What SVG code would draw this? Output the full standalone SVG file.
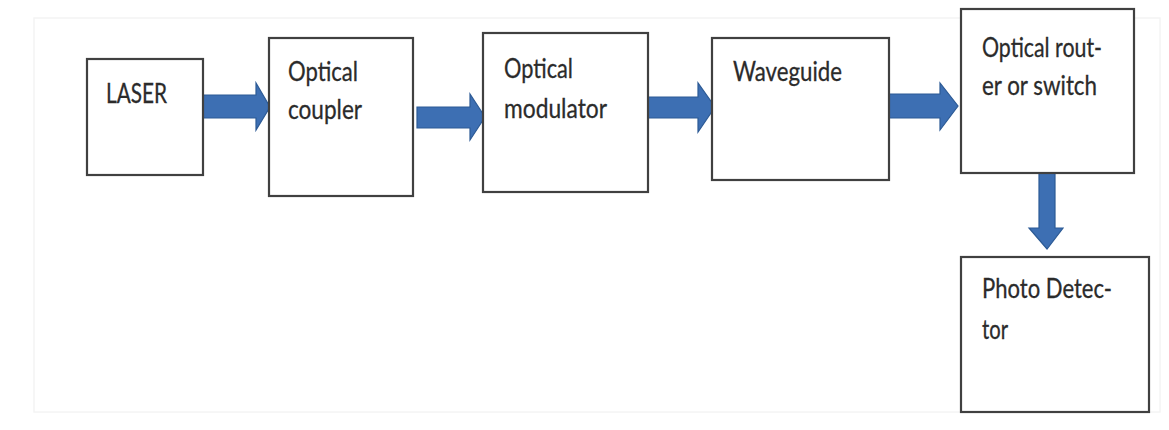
<svg xmlns="http://www.w3.org/2000/svg" width="1169" height="430" viewBox="0 0 1169 430">
  <style>
    .box { fill: #ffffff; stroke: #404040; stroke-width: 2.2; }
    .lbl { font-family: Lato, "Open Sans", "Liberation Sans", sans-serif; font-size: 27px; fill: #2b2b2b; stroke: #2b2b2b; stroke-width: 0.3; }
    .arr { fill: #3d6fb3; stroke: #2c5a95; stroke-width: 1.2; stroke-linejoin: miter; }
    .frame { fill: none; stroke: #f4f4f4; stroke-width: 1.5; }
  </style>
  <rect x="0" y="0" width="1169" height="430" fill="#ffffff"/>
  <rect class="frame" x="34" y="18" width="1126" height="394"/>

  <g id="connectors">
    <polygon class="arr" points="203,95 256,95 256,83 270,107 256,130 256,118 203,118"/>
    <polygon class="arr" points="417,107 470,107 470,94 485,117 470,140 470,128 417,128"/>
    <polygon class="arr" points="647,97 698,97 698,83 715,107 698,132 698,118 647,118"/>
    <polygon class="arr" points="889,94 940,94 940,83 958,106 940,130 940,118 889,118"/>
    <polygon class="arr" points="1039,173 1055,173 1055,228 1063,228 1047,249 1029,228 1039,228"/>
  </g>

  <g id="laser">
    <rect class="box" x="87" y="59" width="116" height="116"/>
    <text class="lbl" x="106" y="103" textLength="61" lengthAdjust="spacingAndGlyphs">LASER</text>
  </g>

  <g id="optical-coupler">
    <rect class="box" x="269" y="38" width="144" height="158"/>
    <text class="lbl" x="288" y="81" textLength="70" lengthAdjust="spacingAndGlyphs">Optical</text>
    <text class="lbl" x="288" y="119" textLength="74" lengthAdjust="spacingAndGlyphs">coupler</text>
  </g>

  <g id="optical-modulator">
    <rect class="box" x="483" y="33" width="165" height="159"/>
    <text class="lbl" x="504" y="78" textLength="69" lengthAdjust="spacingAndGlyphs">Optical</text>
    <text class="lbl" x="504" y="118" textLength="103" lengthAdjust="spacingAndGlyphs">modulator</text>
  </g>

  <g id="waveguide">
    <rect class="box" x="712" y="38" width="177" height="142"/>
    <text class="lbl" x="733" y="81" textLength="109" lengthAdjust="spacingAndGlyphs">Waveguide</text>
  </g>

  <g id="optical-router">
    <rect class="box" x="961" y="9" width="173" height="164"/>
    <text class="lbl" x="982" y="57" textLength="120" lengthAdjust="spacingAndGlyphs">Optical rout-</text>
    <text class="lbl" x="982" y="95" textLength="115" lengthAdjust="spacingAndGlyphs">er or switch</text>
  </g>

  <g id="photo-detector">
    <rect class="box" x="961" y="257" width="188" height="155"/>
    <text class="lbl" x="982" y="298" textLength="130" lengthAdjust="spacingAndGlyphs">Photo Detec-</text>
    <text class="lbl" x="982" y="339" textLength="26" lengthAdjust="spacingAndGlyphs">tor</text>
  </g>
</svg>
